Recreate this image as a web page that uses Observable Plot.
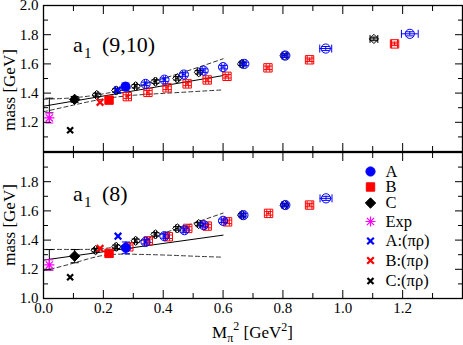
<!DOCTYPE html>
<html><head><meta charset="utf-8">
<script src="https://cdn.jsdelivr.net/npm/d3@7"></script>
<script src="https://cdn.jsdelivr.net/npm/@observablehq/plot@0.6"></script>
<style>
body{margin:0;background:#fff;}
#chart{position:relative;width:463px;height:345px;}
#chart svg{display:block;}
</style></head><body><div id="chart"></div>
<script>
// ---------- data ----------
const X_MAJOR = [0,0.2,0.4,0.6,0.8,1.0,1.2,1.4];
const X_MINOR = [0.1,0.3,0.5,0.7,0.9,1.1,1.3];
const X_LABELS = [0,0.2,0.4,0.6,0.8,1.0,1.2];
const Y_MAJOR = [1.0,1.2,1.4,1.6,1.8,2.0];
const Y_MINOR = [1.1,1.3,1.5,1.7,1.9];
const TOP_Y_LABELS = [1.2,1.4,1.6,1.8,2.0];
const BOT_Y_LABELS = [1.0,1.2,1.4,1.6,1.8];

// fit curves
const FIT_X = [0,0.1,0.2,0.3,0.4,0.5,0.6];
const TOP_FIT_UP = [1.358,1.368,1.395,1.440,1.500,1.565,1.635];
const TOP_FIT_LO = [1.272,1.318,1.360,1.385,1.398,1.410,1.422];
const TOP_FIT_MID_X = [0,0.6], TOP_FIT_MID = [1.310,1.520];
const BOT_FIT_UP = [1.336,1.336,1.342,1.380,1.447,1.515,1.585];
const BOT_FIT_LO = [1.190,1.242,1.295,1.303,1.298,1.290,1.283];
const BOT_FIT_MID_X = [0,0.6], BOT_FIT_MID = [1.263,1.434];

// [x, y, yerr, xerr]
const TOP_A_OPEN = [[0.341,1.463,0.012,0.004],[0.404,1.492,0.012,0.004],[0.469,1.527,0.012,0.005],[0.535,1.554,0.012,0.005],[0.600,1.578,0.012,0.006],[0.671,1.600,0.012,0.006],[0.808,1.657,0.012,0.008],[0.943,1.705,0.014,0.020],[1.224,1.806,0.014,0.028]];
const TOP_B_OPEN = [[0.280,1.376,0.012,0.004],[0.349,1.405,0.012,0.004],[0.413,1.436,0.012,0.004],[0.480,1.463,0.012,0.005],[0.547,1.490,0.012,0.005],[0.613,1.515,0.012,0.006],[0.750,1.573,0.012,0.006],[0.889,1.628,0.012,0.008],[1.173,1.737,0.012,0.010]];
const TOP_C_OPEN = [[0.178,1.387,0.012,0.004],[0.243,1.418,0.012,0.004],[0.308,1.447,0.012,0.004],[0.374,1.479,0.012,0.004],[0.447,1.501,0.012,0.005],[0.519,1.543,0.012,0.005],[0.663,1.600,0.012,0.006],[0.805,1.657,0.012,0.008],[1.104,1.771,0.012,0.013]];
const BOT_A_OPEN = [[0.341,1.388,0.014,0.004],[0.404,1.427,0.014,0.004],[0.471,1.468,0.014,0.005],[0.535,1.503,0.012,0.005],[0.600,1.532,0.012,0.006],[0.668,1.571,0.012,0.006],[0.808,1.640,0.012,0.008],[0.944,1.686,0.014,0.020]];
const BOT_B_OPEN = [[0.285,1.354,0.012,0.004],[0.350,1.395,0.012,0.004],[0.417,1.423,0.012,0.004],[0.482,1.480,0.012,0.005],[0.547,1.496,0.012,0.005],[0.615,1.525,0.012,0.006],[0.752,1.583,0.012,0.006],[0.889,1.640,0.012,0.008]];
const BOT_C_OPEN = [[0.174,1.331,0.012,0.004],[0.243,1.354,0.012,0.004],[0.308,1.395,0.012,0.004],[0.374,1.439,0.012,0.004],[0.447,1.480,0.012,0.005],[0.519,1.510,0.012,0.005],[0.663,1.571,0.012,0.006],[0.805,1.640,0.012,0.008]];

const TOP_A = [[0.274,1.444,0.025]], TOP_B = [[0.219,1.352,0.015]], TOP_C = [[0.104,1.357,0.020]];
const BOT_A = [[0.275,1.347,0.040]], BOT_B = [[0.219,1.309,0.015]], BOT_C = [[0.104,1.290,0.045]];
const EXP = [[0.0195,1.230,0.035]];
const TOP_EXTRAP = [[0.0195,1.315,0.050]], BOT_EXTRAP = [[0.0195,1.265,0.070]];
const TOP_PIRHO_A = [[0.247,1.420]], TOP_PIRHO_B = [[0.189,1.337]], TOP_PIRHO_C = [[0.089,1.145]];
const BOT_PIRHO_A = [[0.249,1.427]], BOT_PIRHO_B = [[0.189,1.343]], BOT_PIRHO_C = [[0.089,1.145]];
const LEGEND_LABELS = ["A","B","C","Exp","A:(\u03c0\u03c1)","B:(\u03c0\u03c1)","C:(\u03c0\u03c1)"];

// ---------- symbols ----------
const rad = s => Math.sqrt(s/Math.PI);
const HCAP = {draw(c,s){const r=rad(s);c.moveTo(-r,0);c.lineTo(r,0);}};
const VCAP = {draw(c,s){const r=rad(s);c.moveTo(0,-r);c.lineTo(0,r);}};
const SQUARE = {draw(c,s){const r=rad(s);c.rect(-r,-r,2*r,2*r);}};
const DIAMOND = {draw(c,s){const r=rad(s);c.moveTo(0,-r);c.lineTo(r,0);c.lineTo(0,r);c.lineTo(-r,0);c.closePath();}};
const CROSS = {draw(c,s){const r=rad(s);c.moveTo(-r,-r);c.lineTo(r,r);c.moveTo(r,-r);c.lineTo(-r,r);}};
const STAR = {draw(c,s){const r=rad(s),q=r*0.72;c.moveTo(-r,0);c.lineTo(r,0);c.moveTo(0,-r);c.lineTo(0,r);c.moveTo(-q,-q);c.lineTo(q,q);c.moveTo(q,-q);c.lineTo(-q,q);}};

const BLUE="#0000ff", RED="#ff0000", BLACK="#000000", MAG="#ff00ff";

function pts(rows, color, symbol, r, filled, capR=4, sw=1) {
  const d = rows.map(([x,y,ey=0,ex=0]) => ({x,y,ey,ex}));
  const dy = d.filter(p=>p.ey>0), dx = d.filter(p=>p.ex>0);
  const m = [
    Plot.ruleX(dy,{x:"x",y1:p=>p.y-p.ey,y2:p=>p.y+p.ey,stroke:color,strokeWidth:1}),
    Plot.dot(dy,{x:"x",y:p=>p.y+p.ey,symbol:HCAP,r:capR,fill:"none",stroke:color,strokeWidth:1}),
    Plot.dot(dy,{x:"x",y:p=>p.y-p.ey,symbol:HCAP,r:capR,fill:"none",stroke:color,strokeWidth:1}),
    Plot.ruleY(dx,{y:"y",x1:p=>p.x-p.ex,x2:p=>p.x+p.ex,stroke:color,strokeWidth:1}),
    Plot.dot(dx,{x:p=>p.x-p.ex,y:"y",symbol:VCAP,r:capR,fill:"none",stroke:color,strokeWidth:1}),
    Plot.dot(dx,{x:p=>p.x+p.ex,y:"y",symbol:VCAP,r:capR,fill:"none",stroke:color,strokeWidth:1})
  ];
  if (symbol) m.push(Plot.dot(d,{x:"x",y:"y",symbol,r,fill:filled?color:"none",stroke:color,strokeWidth:sw}));
  return m;
}
function curve(xs, ys, dashed) {
  const d = xs.map((x,i)=>({x,y:ys[i]}));
  return Plot.line(d,{x:"x",y:"y",curve:"natural",stroke:dashed?"#333":"#000",strokeWidth:1,strokeDasharray:dashed?"4,3":null});
}
function axes(yLabels, xLabels) {
  const none = () => "";
  const m = [
    Plot.axisY(Y_MAJOR,{anchor:"left",tickSize:8,dx:8,tickFormat:none,label:null}),
    Plot.axisY(Y_MINOR,{anchor:"left",tickSize:5,dx:5,tickFormat:none,label:null}),
    Plot.axisY(Y_MAJOR,{anchor:"right",tickSize:8,dx:-8,tickFormat:none,label:null}),
    Plot.axisY(Y_MINOR,{anchor:"right",tickSize:5,dx:-5,tickFormat:none,label:null}),
    Plot.axisX(X_MAJOR,{anchor:"bottom",tickSize:8,dy:-8,tickFormat:none,label:null}),
    Plot.axisX(X_MINOR,{anchor:"bottom",tickSize:5,dy:-5,tickFormat:none,label:null}),
    Plot.axisX(X_MAJOR,{anchor:"top",tickSize:8,dy:8,tickFormat:none,label:null}),
    Plot.axisX(X_MINOR,{anchor:"top",tickSize:5,dy:5,tickFormat:none,label:null}),
    Plot.axisY(yLabels,{anchor:"left",tickSize:0,tickPadding:5,fontSize:15,tickFormat:d3.format(".1f"),label:null})
  ];
  if (xLabels) m.push(Plot.axisX(xLabels,{anchor:"bottom",tickSize:0,tickPadding:4,fontSize:15,tickFormat:d3.format(".1f"),label:null}));
  return m;
}
const STYLE = {fontFamily:"'Liberation Serif', 'Times New Roman', serif",fontSize:"15px",overflow:"visible",background:"transparent",color:"#000"};

function panel(p) {
  return Plot.plot({
    width:463, height:p.height, marginTop:p.mt, marginBottom:p.mb, marginLeft:43, marginRight:1,
    x:{domain:[0,1.4]}, y:{domain:[1,2]}, style:STYLE,
    marks:[
      curve(FIT_X,p.up,true), curve(FIT_X,p.lo,true), curve(p.midX,p.mid,false),
      ...pts(p.extrap,BLACK,null,0,false,4),
      ...pts(p.openC,BLACK,DIAMOND,4.6,false,4),
      ...pts(p.openB,RED,SQUARE,4.2,false,4),
      ...pts(p.openA,BLUE,"circle",4.6,false,4),
      ...pts(EXP,MAG,STAR,5,false,4,1.2),
      ...pts(p.prA,BLUE,CROSS,3.3,false,4,2.2),
      ...pts(p.prB,RED,CROSS,3.3,false,4,2.2),
      ...pts(p.prC,BLACK,CROSS,3.0,false,4,2.2),
      ...pts(p.C,BLACK,DIAMOND,5.2,true,4),
      ...pts(p.B,RED,SQUARE,4.2,true,4),
      ...pts(p.A,BLUE,"circle",4.6,true,4),
      ...(p.legend||[]),
      ...axes(p.yLabels,p.xLabels),
      Plot.frame({stroke:"#000",strokeWidth:1.3})
    ]
  });
}

// legend (bottom panel) built from the labels
const LEG_SYM = [["circle",BLUE,true,4.6,1],[SQUARE,RED,true,4.2,1],[DIAMOND,BLACK,true,5.2,1],[STAR,MAG,false,5,1.2],[CROSS,BLUE,false,3.3,2.2],[CROSS,RED,false,3.3,2.2],[CROSS,BLACK,false,3.0,2.2]];
const LEG_DY = [19,34.5,50.5,69,88.5,108,128.5];
const legendMarks = [];
LEGEND_LABELS.forEach((lab,i)=>{
  const [sym,col,filled,r,sw] = LEG_SYM[i];
  legendMarks.push(Plot.dot([lab],{frameAnchor:"top-left",dx:327,dy:LEG_DY[i],symbol:sym,r,fill:filled?col:"none",stroke:col,strokeWidth:sw}));
  legendMarks.push(Plot.text([lab],{frameAnchor:"top-left",dx:342,dy:LEG_DY[i],text:d=>d,textAnchor:"start",lineAnchor:"middle",fontSize:16.5,fill:"#000"}));
});

const topSvg = panel({height:152,mt:5,mb:1,up:TOP_FIT_UP,lo:TOP_FIT_LO,midX:TOP_FIT_MID_X,mid:TOP_FIT_MID,
  extrap:TOP_EXTRAP,openA:TOP_A_OPEN,openB:TOP_B_OPEN,openC:TOP_C_OPEN,A:TOP_A,B:TOP_B,C:TOP_C,
  prA:TOP_PIRHO_A,prB:TOP_PIRHO_B,prC:TOP_PIRHO_C,yLabels:TOP_Y_LABELS,xLabels:null});
const botSvg = panel({height:193,mt:0,mb:47,up:BOT_FIT_UP,lo:BOT_FIT_LO,midX:BOT_FIT_MID_X,mid:BOT_FIT_MID,
  extrap:BOT_EXTRAP,openA:BOT_A_OPEN,openB:BOT_B_OPEN,openC:BOT_C_OPEN,A:BOT_A,B:BOT_B,C:BOT_C,
  prA:BOT_PIRHO_A,prB:BOT_PIRHO_B,prC:BOT_PIRHO_C,yLabels:BOT_Y_LABELS,xLabels:X_LABELS,legend:legendMarks});

const chart = document.getElementById("chart");
chart.append(topSvg, botSvg);

// panel labels and axis titles
function panelLabel(svg, base, tag) {
  const s = d3.select(svg);
  s.append("text").attr("x",73).attr("y",base).attr("text-anchor","start").attr("font-size",22).text("a");
  s.append("text").attr("x",84).attr("y",base+6).attr("text-anchor","start").attr("font-size",15).text("1");
  s.append("text").attr("x",102).attr("y",base).attr("text-anchor","start").attr("font-size",22).text(tag);
}
function yTitle(svg, cy) {
  d3.select(svg).append("text").attr("transform",`translate(15,${cy}) rotate(-90)`)
    .attr("text-anchor","middle").attr("font-size",17).text("mass [GeV]");
}
panelLabel(topSvg, 52, "(9,10)");
panelLabel(botSvg, 48.5, "(8)");
yTitle(topSvg, 90);
yTitle(botSvg, 73);
const xt = d3.select(botSvg).append("text").attr("x",252.5).attr("y",186).attr("text-anchor","middle").attr("font-size",17);
xt.append("tspan").text("M");
xt.append("tspan").attr("font-size",12).attr("dy",4).text("\u03c0");
xt.append("tspan").attr("font-size",12).attr("dy",-12).text("2");
xt.append("tspan").attr("dy",8).text(" [GeV");
xt.append("tspan").attr("font-size",12).attr("dy",-7).text("2");
xt.append("tspan").attr("dy",7).text("]");
</script>
</body></html>
